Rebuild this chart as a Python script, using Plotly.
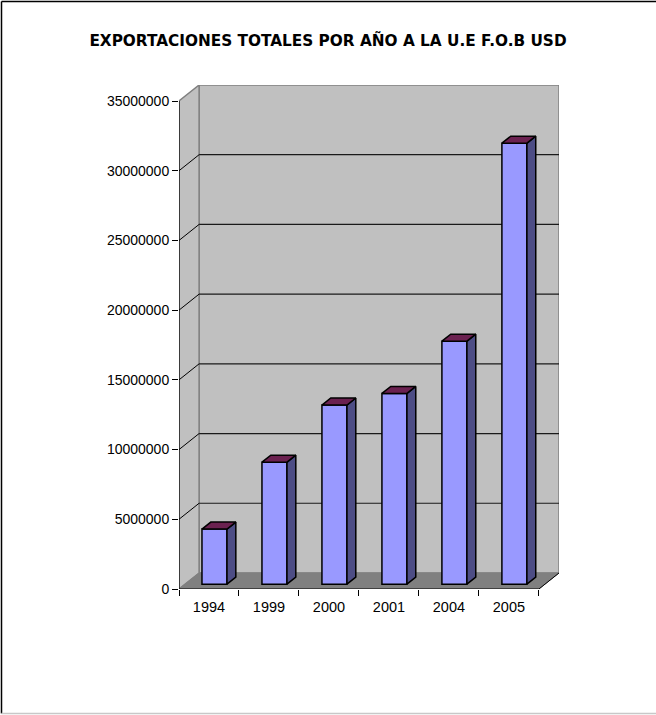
import plotly.graph_objects as go

# ---- data ----
years = ["1994", "1999", "2000", "2001", "2004", "2005"]
exports_usd = [3950000, 8750000, 12850000, 13680000, 17430000, 31630000]
y_tick_values = [0, 5000000, 10000000, 15000000, 20000000, 25000000, 30000000, 35000000]
title_text = "EXPORTACIONES TOTALES POR AÑO A LA U.E F.O.B USD"

# ---- layout constants (pseudo-3D look) ----
W, H = 656, 715
ML, MR, MT, MB = 179, 97, 85, 126
YMAX = y_tick_values[-1]
DX = 0.335          # depth shift in category units
DY = 1.15e6         # depth shift in value units
F0, F1 = 0.30, 0.74  # bar depth fractions (front/back)
BAR_OFF, BAR_W = -0.117, 0.417
XL, XR = -0.5, len(years) - 0.5

WALL = "#c0c0c0"
FLOOR = "#808080"
EDGE = "#808080"
FRONT = "#9999ff"
SIDE = "#4d4d85"
TOP = "#6b2150"

xs = list(range(len(years)))

fig = go.Figure()

# front faces of bars
fig.add_trace(go.Bar(
    x=xs, y=exports_usd, base=[F0 * DY] * len(xs),
    offset=BAR_OFF, width=BAR_W,
    marker=dict(color=FRONT, line=dict(color="black", width=1.5)),
    hoverinfo="skip", showlegend=False,
))

# side and top faces
ddx, ddy = (F1 - F0) * DX, (F1 - F0) * DY
for i, v in zip(xs, exports_usd):
    xl = i + BAR_OFF
    xr = xl + BAR_W
    b0 = F0 * DY
    top = b0 + v
    fig.add_trace(go.Scatter(
        x=[xr, xr + ddx, xr + ddx, xr, xr],
        y=[b0, b0 + ddy, top + ddy, top, b0],
        mode="lines", fill="toself", fillcolor=SIDE,
        line=dict(color="black", width=1.5),
        hoverinfo="skip", showlegend=False,
    ))
    fig.add_trace(go.Scatter(
        x=[xl, xr, xr + ddx, xl + ddx, xl],
        y=[top, top, top + ddy, top + ddy, top],
        mode="lines", fill="toself", fillcolor=TOP,
        line=dict(color="black", width=1.5),
        hoverinfo="skip", showlegend=False,
    ))

shapes = []
# back wall
shapes.append(dict(type="rect", xref="x", yref="y", layer="below",
                   x0=XL + DX, x1=XR + DX, y0=DY, y1=YMAX + DY,
                   fillcolor=WALL, line=dict(color=EDGE, width=1.5)))
# left wall
shapes.append(dict(type="path", xref="x", yref="y", layer="below",
                   path=f"M {XL},0 L {XL+DX},{DY} L {XL+DX},{YMAX+DY} L {XL},{YMAX} Z",
                   fillcolor=WALL, line=dict(color=EDGE, width=1.5)))
# floor
shapes.append(dict(type="path", xref="x", yref="y", layer="below",
                   path=f"M {XL},0 L {XR},0 L {XR+DX},{DY} L {XL+DX},{DY} Z",
                   fillcolor=FLOOR, line=dict(color=FLOOR, width=1)))
# gridlines on back wall and left wall
for v in y_tick_values[1:-1]:
    shapes.append(dict(type="line", xref="x", yref="y", layer="below",
                       x0=XL + DX, x1=XR + DX, y0=v + DY, y1=v + DY,
                       line=dict(color="#1a1a1a", width=1.2)))
for v in y_tick_values[1:-1]:
    shapes.append(dict(type="line", xref="x", yref="y", layer="below",
                       x0=XL, x1=XL + DX, y0=v, y1=v + DY,
                       line=dict(color="black", width=1)))
# floor right edge
shapes.append(dict(type="line", xref="x", yref="y", layer="below",
                   x0=XR, x1=XR + DX, y0=0, y1=DY,
                   line=dict(color="black", width=1)))
# front axes
shapes.append(dict(type="line", xref="x", yref="y", x0=XL, x1=XL, y0=0, y1=YMAX,
                   line=dict(color="black", width=1.2)))
shapes.append(dict(type="line", xref="x", yref="y", x0=XL, x1=XR, y0=0, y1=0,
                   line=dict(color="black", width=1.2)))

# outer chart frame
pw, ph = W - ML - MR, H - MT - MB
def px_x(p):
    return (p - ML) / pw
def px_y(p):
    return (H - MB - p) / ph
shapes.append(dict(type="line", xref="paper", yref="paper",
                   x0=px_x(1.5), x1=px_x(1.5), y0=px_y(1.5), y1=px_y(713.5),
                   line=dict(color="black", width=1.5)))
shapes.append(dict(type="line", xref="paper", yref="paper",
                   x0=px_x(1.5), x1=px_x(656), y0=px_y(1.5), y1=px_y(1.5),
                   line=dict(color="black", width=1.5)))
shapes.append(dict(type="line", xref="paper", yref="paper",
                   x0=px_x(1.5), x1=px_x(656), y0=px_y(713.5), y1=px_y(713.5),
                   line=dict(color="#c8c8c8", width=1.5)))

fig.update_layout(
    width=W, height=H,
    margin=dict(l=ML, r=MR, t=MT, b=MB),
    paper_bgcolor="white", plot_bgcolor="white",
    shapes=shapes,
    title=dict(text=f"<b>{title_text}</b>", x=328 / W, xref="container", xanchor="center",
               y=1 - 41 / H, yref="container", yanchor="middle",
               font=dict(family="DejaVu Sans", size=15.3, color="black")),
    xaxis=dict(range=[XL, XR + DX], tickmode="array", tickvals=xs, ticktext=years,
               ticks="", showgrid=False, zeroline=False, showline=False,
               ticklabelstandoff=7,
               tickfont=dict(family="Liberation Sans, Arial", size=14.5, color="black"),
               minor=dict(tickmode="array", tickvals=[x - 0.5 for x in xs] + [XR],
                          ticks="outside", ticklen=6, tickcolor="black", tickwidth=1.2,
                          showgrid=False),
               fixedrange=True),
    yaxis=dict(range=[0, YMAX + DY], tickmode="array", tickvals=y_tick_values,
               ticktext=[str(v) for v in y_tick_values],
               ticks="outside", ticklen=6, tickcolor="black", tickwidth=1.2,
               showgrid=False, zeroline=False, showline=False,
               tickfont=dict(family="Liberation Sans, Arial", size=14, color="black"),
               fixedrange=True),
    showlegend=False,
)

fig.write_html(
    "out.html",
    config={"displayModeBar": False},
    post_script="document.body.style.margin='0';document.body.style.overflow='hidden';",
)
